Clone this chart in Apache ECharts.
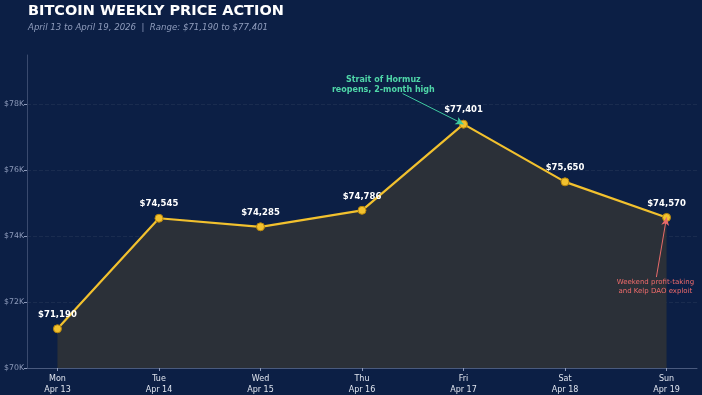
<!DOCTYPE html>
<html><head><meta charset="utf-8">
<script src="https://cdn.jsdelivr.net/npm/echarts@6/dist/echarts.min.js"></script>
<style>html,body{margin:0;padding:0;background:#0c1f45;}#c{width:702px;height:395px;}</style>
</head><body><div id="c"></div>
<script>
const days = ['Mon','Tue','Wed','Thu','Fri','Sat','Sun'];
const dates = ['Apr 13','Apr 14','Apr 15','Apr 16','Apr 17','Apr 18','Apr 19'];
const prices = [71190, 74545, 74285, 74786, 77401, 75650, 74570];
const yTicks = [70000, 72000, 74000, 76000, 78000];
const titleText = 'BITCOIN WEEKLY PRICE ACTION';
const subtitleText = 'April 13 to April 19, 2026  |  Range: $71,190 to $77,401';
const noteUp = 'Strait of Hormuz\nreopens, 2-month high';
const noteDown = 'Weekend profit-taking\nand Kelp DAO exploit';

const fmt = v => '$' + v.toLocaleString('en-US');
const chart = echarts.init(document.getElementById('c'));
const F = 'DejaVu Sans';
chart.setOption({
  backgroundColor: '#0c1f45',
  animation: false,
  title: [
    {text: titleText, left: 23, top: -1, textStyle: {color: '#ffffff', fontFamily: F, fontWeight: 'bold', fontSize: 14.5}},
    {text: subtitleText, left: 23, top: 18, textStyle: {color: '#8f9cbc', fontFamily: F, fontStyle: 'italic', fontWeight: 'normal', fontSize: 8.6}}
  ],
  grid: {left: 27, right: 5, top: 55, bottom: 26},
  xAxis: {
    type: 'value', min: -0.3, max: 6.3,
    axisLine: {show: true, onZero: false, lineStyle: {color: '#4a5a7e', width: 1}},
    axisTick: {show: true, customValues: [0,1,2,3,4,5,6], length: 3, lineStyle: {color: '#8f9cbc'}},
    axisLabel: {customValues: [0,1,2,3,4,5,6], color: '#dfe4ee', fontFamily: F, fontSize: 8, lineHeight: 11, margin: 5,
      formatter: v => days[Math.round(v)] + '\n' + dates[Math.round(v)]},
    splitLine: {show: false}
  },
  yAxis: {
    type: 'value', min: 70000, max: 79500, interval: 2000,
    axisLine: {show: true, onZero: false, lineStyle: {color: '#3a4a6e', width: 1}},
    axisTick: {show: true, customValues: yTicks, length: 3, lineStyle: {color: '#8f9cbc'}},
    axisLabel: {customValues: yTicks, color: '#8f9cbc', fontFamily: F, fontSize: 7.8, margin: 3, formatter: v => '$' + (v/1000) + 'K'},
    splitLine: {show: true, lineStyle: {color: 'rgba(255,255,255,0.06)', type: 'dashed', width: 1}}
  },
  series: [{
    type: 'line',
    data: prices.map((p, i) => [i, p]),
    lineStyle: {color: '#f2c12e', width: 2.2},
    itemStyle: {color: '#f2c12e', borderColor: '#b8860b', borderWidth: 1},
    symbol: 'circle', symbolSize: 8,
    areaStyle: {color: '#2b3038', opacity: 1},
    z: 3,
    label: {show: true, position: 'top', distance: 5, color: '#ffffff', fontFamily: F, fontWeight: 'bold', fontSize: 8.5, formatter: p => fmt(p.value[1])},
    markLine: {
      silent: true, symbol: ['none', 'arrow'], symbolSize: [6, 8], label: {show: false},
      data: [
        [{coord: [3.40, 78330], lineStyle: {color: '#3fc9a0', width: 1, type: 'solid'}}, {coord: [4, 77401]}],
        [{coord: [5.9, 72760], lineStyle: {color: '#e86a6a', width: 1, type: 'solid'}}, {coord: [6, 74570]}]
      ]
    },
    markPoint: {
      silent: true, symbol: 'circle', symbolSize: 0,
      data: [
        {coord: [3.21, 78600], label: {show: true, formatter: noteUp, color: '#4fd6a8', fontFamily: F, fontWeight: 'bold', fontSize: 8, lineHeight: 10, align: 'center', verticalAlign: 'middle', position: 'inside'}},
        {coord: [5.89, 72480], label: {show: true, formatter: noteDown, color: '#ef6b6b', fontFamily: F, fontSize: 7, lineHeight: 9, align: 'center', verticalAlign: 'middle', position: 'inside'}}
      ]
    }
  }]
});
</script></body></html>
